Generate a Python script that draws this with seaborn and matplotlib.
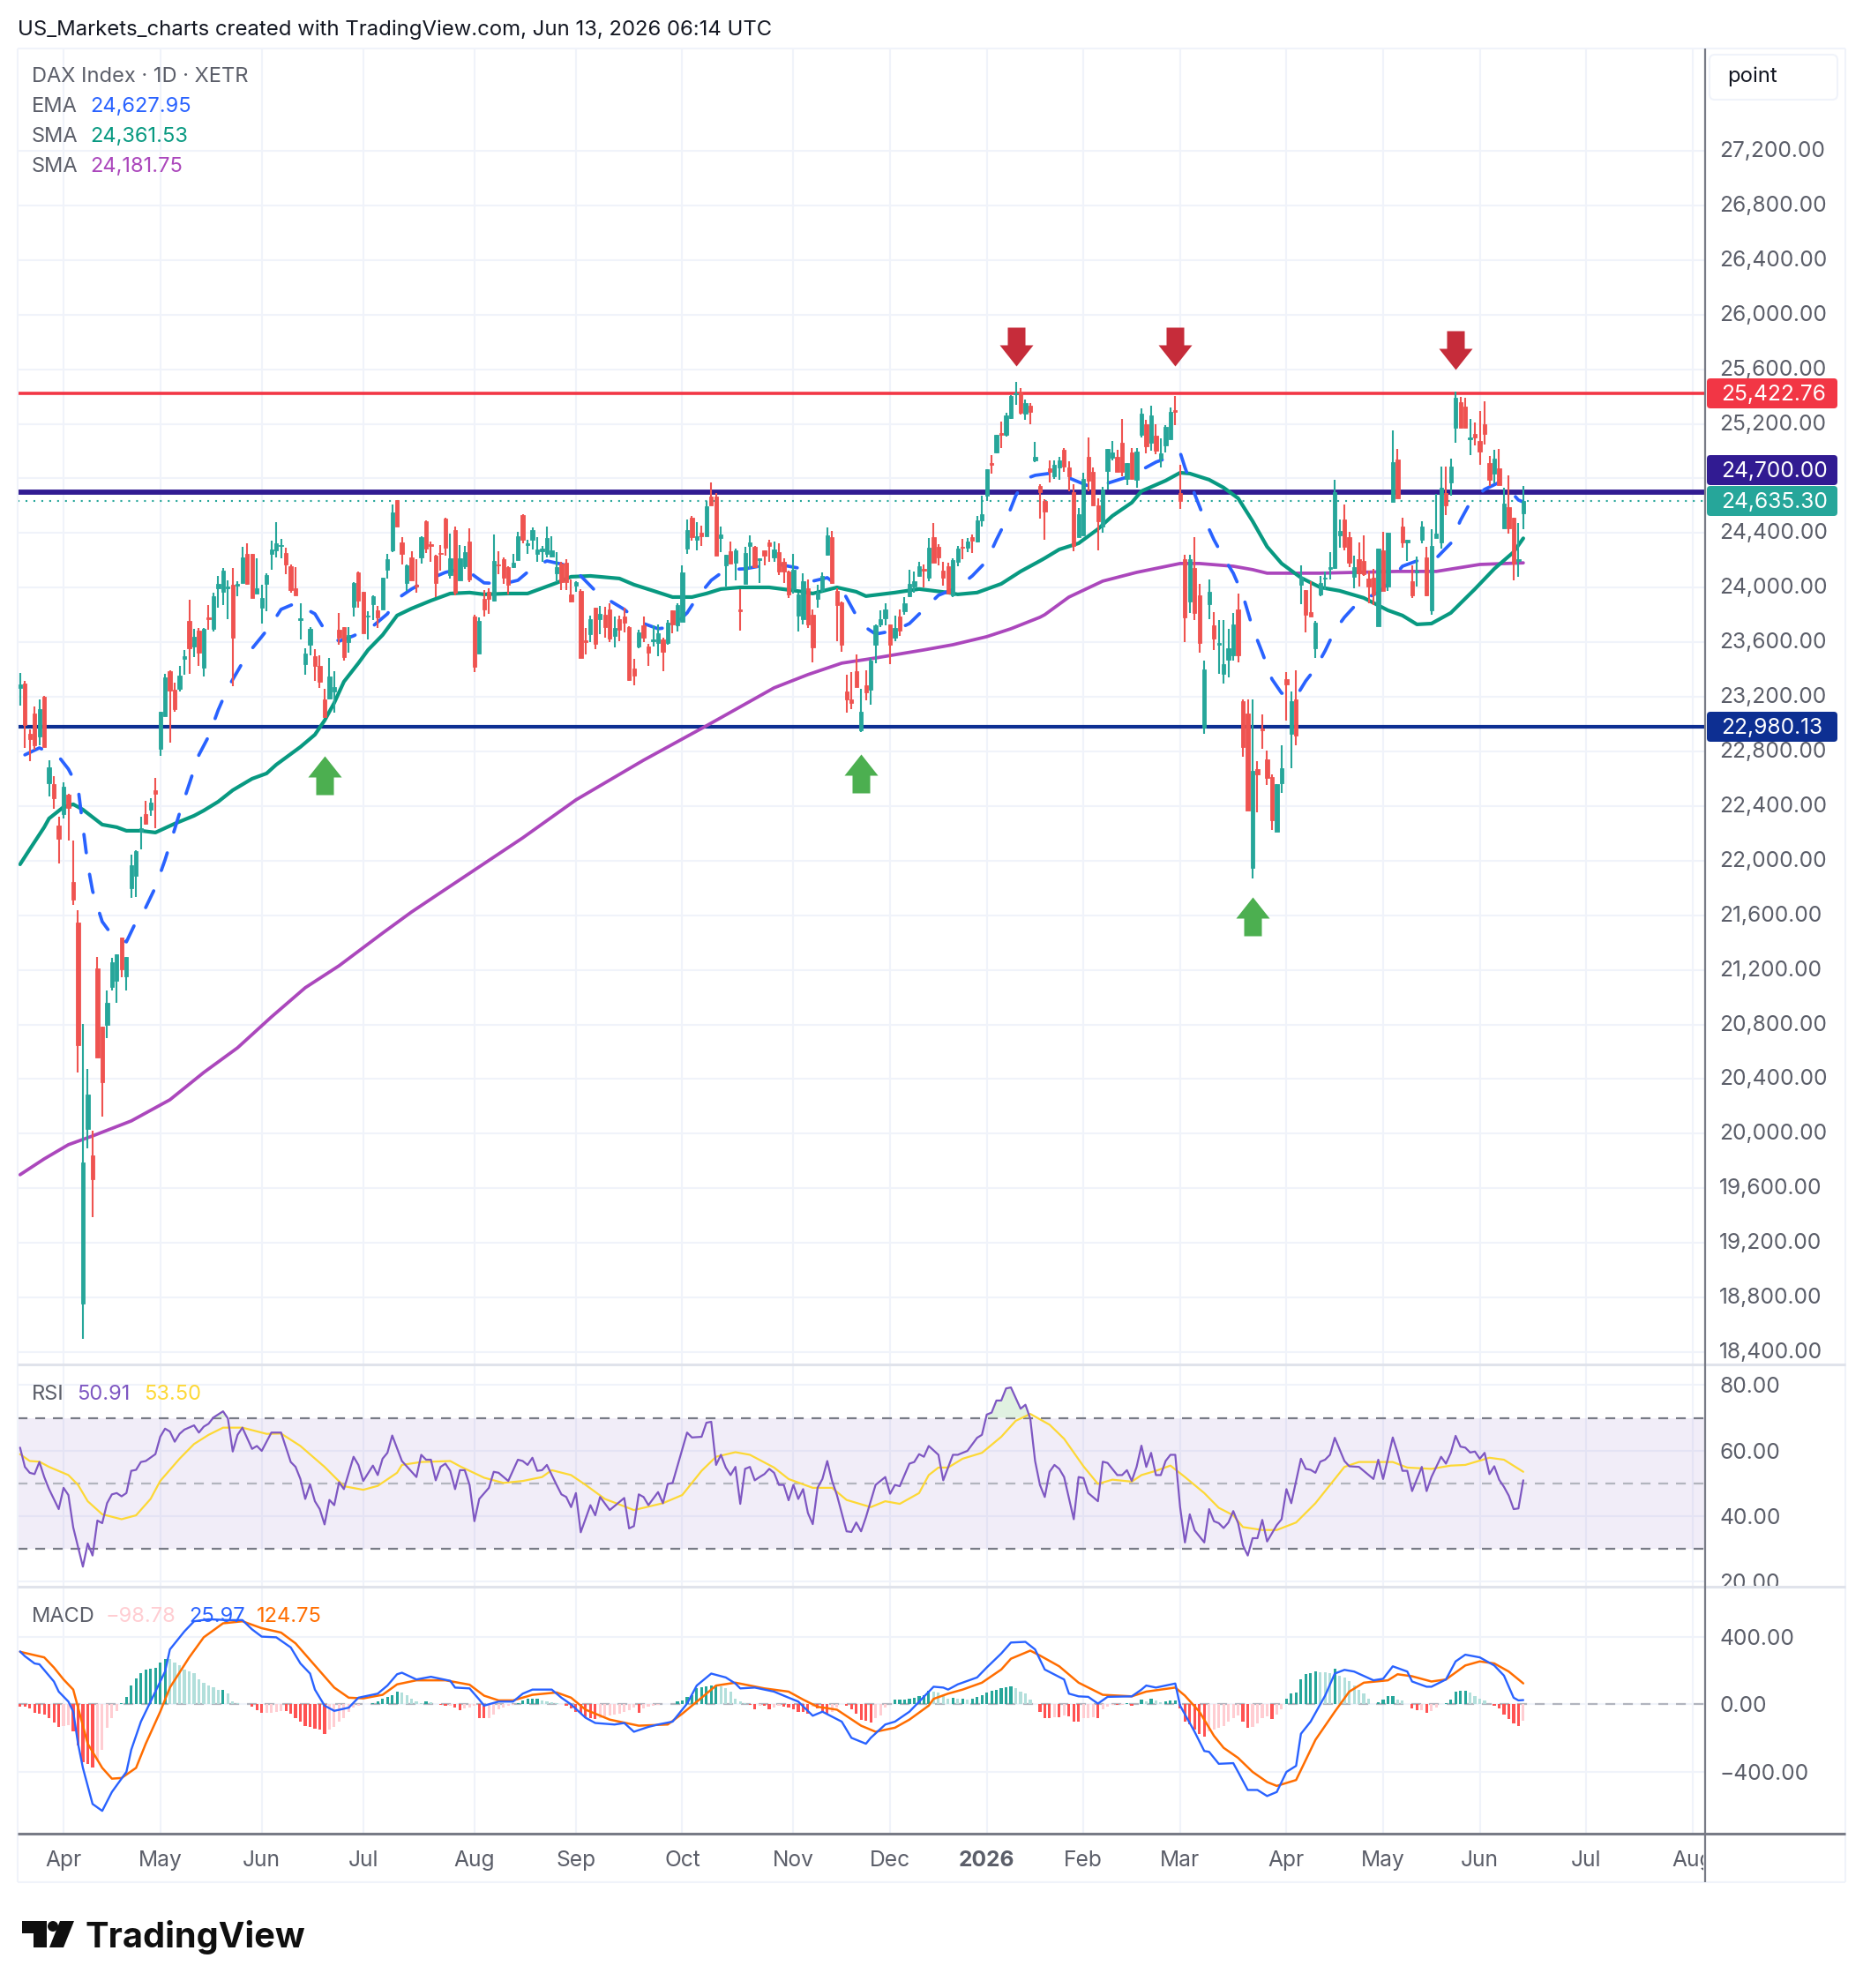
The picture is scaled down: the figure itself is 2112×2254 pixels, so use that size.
import numpy as np
import matplotlib
matplotlib.use("Agg")
import matplotlib.pyplot as plt
import seaborn as sns
from matplotlib.lines import Line2D
from matplotlib.patches import FancyBboxPatch, Polygon, Circle, Rectangle
from matplotlib.path import Path
from matplotlib.transforms import Affine2D, Bbox, IdentityTransform

# ---------------------------------------------------------------- daily bars
opens = [
    23266,23298,22930,23078,22910,23201,22568,22561,22258,22342,
    22484,21844,21547,18755,20035,19841,21211,20784,20797,21075,
    21120,21437,21153,21799,21889,22212,22342,22374,22516,22820,
    23059,23389,23253,23259,23479,23757,23569,23686,23414,23783,
    23699,23996,23970,23996,24022,24015,24035,24248,24248,23957,
    23854,24028,24248,24274,24306,24254,24157,23996,23763,23440,
    23582,23498,23427,23182,23188,23240,23692,23712,23602,23860,
    24112,23970,23789,23880,23834,23841,24132,24274,24642,24332,
    24035,24222,24022,24222,24487,24319,24235,24254,24506,24093,
    24422,24054,24157,24338,23789,23518,23918,23970,23905,24170,
    24209,24151,24151,24203,24532,24312,24351,24248,24267,24248,
    24229,24106,24177,24183,23951,24015,23977,23615,23660,23854,
    23770,23802,23841,23647,23770,23789,23712,23408,23569,23724,
    23569,23608,23595,23621,23595,23834,23724,23750,24287,24513,
    24351,24403,24377,24668,24668,24364,24164,24267,24183,23841,
    24028,24306,24300,24203,24274,24332,24222,24261,24190,24119,
    23990,23796,23770,23996,23802,23918,23983,24241,24371,23977,
    23893,23240,23182,23388,22955,23285,23253,23582,23731,23776,
    23731,23634,23789,23828,23938,24009,24086,24138,24073,24371,
    24300,24125,24157,23944,24190,24300,24293,24371,24338,24493,
    24674,24913,24991,25133,25120,25243,25418,25431,25275,25333,
    24933,24745,24635,24875,24816,24881,25010,24881,24700,24371,
    24384,24959,24849,24603,24448,24855,24952,24959,25062,24797,
    24991,24791,25120,25198,25062,25114,24946,25043,25088,25301,
    24694,24209,23899,24144,23944,22975,23880,23724,23582,23369,
    23472,23505,23841,23169,23078,21947,22671,22968,22742,22613,
    22212,22568,23330,22930,23182,24022,23983,23822,23556,23951,
    24067,24138,24144,24384,24500,24371,24080,24209,24196,24067,
    24073,23718,24274,24009,24629,24939,24448,24332,24048,24112,
    24351,24222,23835,24364,24332,24694,24771,25172,25359,25327,
    25088,25127,25075,25198,24913,24836,24875,24435,24590,24513,24196,24545,
]
closes = [
    23291,22994,22891,22846,23111,22833,22684,22458,22161,22542,
    22387,21715,20648,19789,20287,19666,20558,20377,20959,21256,
    21314,21204,21295,21967,22070,22238,22271,22426,22490,23091,
    23343,23246,23110,23356,23498,23556,23641,23524,23699,23770,
    23938,24028,24125,24009,23634,24028,24222,24028,23925,23996,
    23925,24093,24280,24325,24312,24170,23983,23944,23776,23518,
    23699,23427,23311,23052,23350,23272,23634,23492,23653,24035,
    23905,23666,23796,23938,23783,24073,24209,24552,24448,24248,
    24164,24054,24009,24371,24287,24306,24035,24248,24293,24216,
    23964,24216,24261,24060,23421,23757,23841,23918,24196,24164,
    24073,24022,24183,24377,24351,24325,24422,24280,24287,24364,
    24274,24151,24041,24041,23899,24041,23485,23602,23770,23589,
    23809,23712,23628,23705,23692,23744,23324,23356,23673,23634,
    23524,23621,23666,23531,23744,23731,23873,24112,24422,24371,
    24377,24377,24597,24603,24235,24390,24241,24177,24274,23828,
    24254,24332,24151,24216,24235,24306,24280,24119,24119,23951,
    24132,23951,24048,23731,23563,23964,24086,24384,24035,23873,
    23582,23182,23156,23272,23091,23233,23466,23724,23770,23841,
    23582,23705,23686,23886,24028,24048,24157,24125,24293,24183,
    24222,24073,23957,24203,24287,24293,24338,24345,24493,24539,
    24868,24900,25120,25120,25262,25405,25424,25282,25353,25288,
    24959,24700,24558,24849,24900,24933,24888,24817,24306,24539,
    24797,24784,24603,24487,24720,25017,24991,24849,24849,24913,
    24797,24997,25275,25036,25262,25004,24984,25178,25288,25288,
    24636,23783,24209,23815,23595,23401,23970,23628,23595,23440,
    23556,23731,23505,22833,22367,22658,22632,22955,22606,22296,
    22561,22678,23291,23169,22917,24080,23802,23789,23744,24035,
    24073,24151,24700,24416,24300,24183,24151,24106,24099,24009,
    23951,24287,23977,24403,24920,24655,24332,24351,23944,24125,
    24448,23944,24306,24397,24733,24603,24888,25392,25172,25172,
    25101,25101,24997,25127,24791,24946,24752,24616,24435,24177,24209,24635.30,
]
highs = [
    23376,23317,22962,23130,23182,23207,22736,22619,22322,22574,
    22490,22148,21637,20804,20474,20022,21295,20784,21049,21288,
    21314,21437,21295,22044,22077,22322,22439,22458,22606,23091,
    23369,23395,23304,23427,23544,23912,23699,23705,23705,23873,
    23964,24086,24144,24054,24144,24048,24300,24325,24248,24216,
    24022,24106,24345,24480,24358,24293,24170,24151,23886,23556,
    23712,23550,23505,23259,23485,23388,23815,23712,23712,24041,
    24119,23970,23828,23944,23867,24073,24248,24610,24642,24371,
    24170,24267,24209,24377,24493,24338,24241,24312,24513,24396,
    24448,24312,24306,24435,23802,23783,23983,23996,24390,24267,
    24222,24157,24248,24410,24539,24351,24442,24371,24306,24448,
    24377,24261,24190,24209,24060,24048,23989,23705,23796,23854,
    23867,23860,23886,23789,23796,23854,23718,23479,23692,23789,
    23589,23724,23731,23634,23763,23834,23886,24164,24500,24526,
    24480,24455,24635,24771,24694,24448,24241,24338,24287,23989,
    24300,24384,24306,24216,24274,24351,24338,24325,24216,24125,
    24248,23964,24106,24060,23841,24022,24112,24442,24416,23996,
    23899,23363,23382,23511,23259,23395,23485,23731,23834,23886,
    23731,23796,23841,23931,24132,24119,24190,24170,24364,24474,
    24319,24190,24183,24216,24306,24358,24364,24390,24526,24675,
    24868,24972,25120,25217,25282,25411,25508,25463,25379,25353,
    25069,24758,24648,24933,24933,24959,25023,24927,24758,24584,
    24842,25101,24881,24655,24739,25017,25075,25010,25237,24913,
    25023,25023,25314,25230,25333,25198,25094,25191,25321,25405,
    24900,24241,24241,24371,24028,23466,24060,23821,23763,23763,
    23699,23815,23957,23182,23182,23182,22729,23072,22807,22632,
    22561,22846,23382,23240,23395,24164,23983,24048,23757,24086,
    24119,24261,24791,24500,24610,24410,24235,24332,24384,24125,
    24138,24287,24410,24403,25153,25017,24513,24351,24164,24228,
    24487,24300,24429,24687,24888,24888,24946,25437,25398,25392,
    25237,25211,25295,25366,24965,25010,25017,24733,24823,24513,24474,24745,
]
lows = [
    23136,22826,22729,22813,22846,22833,22471,22380,21980,22309,
    22148,21676,20448,18497,19893,19388,20558,20125,20700,21049,
    20959,21146,21049,21728,21734,22083,22264,22329,22238,22768,
    23059,22865,23091,23240,23363,23369,23492,23427,23350,23692,
    23679,23854,23873,23770,23279,23938,24035,24022,23925,23957,
    23737,23828,24132,24222,24216,24099,23964,23944,23621,23363,
    23505,23317,23266,23052,23188,23085,23582,23466,23524,23789,
    23854,23666,23621,23763,23705,23841,24067,24261,24448,24170,
    23977,24054,23964,24177,24254,24190,23931,24125,24235,24067,
    23944,24054,24138,24041,23382,23518,23789,23809,23899,24099,
    24028,23951,24144,24203,24325,24248,24280,24190,24190,24222,
    24222,24041,23983,23983,23893,23970,23485,23511,23602,23550,
    23660,23634,23602,23563,23608,23673,23317,23285,23556,23602,
    23427,23569,23498,23388,23582,23666,23679,23750,24248,24345,
    24274,24306,24377,24603,24235,24261,24009,24177,24054,23686,
    24028,24138,24144,24035,24164,24190,24190,24093,24035,23925,
    23957,23679,23731,23705,23453,23854,23970,24235,24028,23608,
    23530,23085,23110,23272,22943,23175,23143,23447,23712,23724,
    23440,23608,23647,23802,23931,23964,24080,24002,24048,24183,
    24164,24015,23957,23931,24157,24209,24261,24254,24332,24448,
    24635,24836,24984,25023,25107,25237,25340,25269,25230,25198,
    24920,24506,24351,24771,24797,24791,24849,24707,24267,24371,
    24384,24707,24603,24274,24403,24720,24933,24849,24817,24752,
    24797,24733,25101,24984,25004,24978,24881,24991,25088,25191,
    24577,23602,23815,23763,23524,22930,23770,23544,23369,23298,
    23343,23466,23453,22762,22367,21870,22354,22820,22555,22225,
    22212,22497,23027,22678,22846,23880,23673,23789,23485,23938,
    23983,24060,24138,24293,24274,24151,23996,24009,24086,23886,
    23873,23718,23977,23977,24629,24655,24293,24196,23925,24009,
    24325,23938,23802,24364,24287,24532,24674,25062,25172,25172,
    24972,25043,24900,25049,24745,24765,24752,24435,24397,24054,24080,24429,
]

# ---------------------------------------------------------------- moving averages
ema_idx = [1,4,8,10,12,13,14,15,16,17,19,22,24,26,28,30,32,33,35,37,39,41,43,45,47,50,52,54,57,61,63,66,69,73,76,78,81,85,88,92,94,96,100,103,106,109,114,116,119,122,125,128,132,135,138,140,143,146,150,154,157,161,164,167,170,172,174,177,181,184,187,190,194,197,200,202,204,206,208,210,214,217,221,225,229,232,235,238,239,240,241,242,243,245,247,249,251,253,255,257,259,261,264,266,268,270,272,274,277,281,283,286,289,293,296,298,300,303,306,308,310,311]
ema_vals = [22775,22826,22762,22671,22535,22251,21973,21779,21663,21553,21456,21405,21553,21657,21805,22006,22232,22348,22561,22775,22910,23104,23266,23388,23511,23641,23731,23841,23886,23808,23692,23608,23647,23718,23808,23918,23990,24067,24112,24144,24086,24035,24028,24054,24144,24196,24157,24086,23977,23905,23841,23750,23699,23712,23815,23925,24054,24132,24138,24164,24170,24144,24048,24073,23990,23860,23731,23660,23686,23737,23841,23944,24002,24086,24196,24351,24493,24674,24797,24823,24842,24804,24745,24765,24810,24862,24920,24959,24985,24991,24881,24784,24687,24506,24351,24222,24106,23944,23705,23524,23330,23227,23201,23317,23408,23537,23686,23783,23899,23964,24028,24157,24196,24216,24325,24493,24623,24720,24771,24720,24642,24627.95]

sma50_idx = [0,2,5,6,9,11,13,17,20,22,25,28,32,36,38,41,44,48,51,53,55,58,61,63,65,67,70,72,75,78,81,85,89,93,96,101,105,108,111,114,118,124,127,131,135,139,142,145,149,155,162,164,169,173,175,181,186,192,194,198,203,207,211,212,215,219,223,226,230,232,237,240,242,246,249,252,255,258,261,265,269,273,278,283,286,289,292,296,301,305,309,311]
sma50_vals = [21973,22083,22245,22309,22393,22413,22374,22264,22245,22219,22219,22206,22271,22329,22367,22432,22516,22600,22639,22703,22755,22833,22923,23027,23156,23311,23447,23544,23653,23796,23847,23905,23957,23964,23951,23957,23957,23996,24035,24080,24086,24067,24022,23977,23931,23931,23957,23990,24002,24002,23970,23957,24002,23970,23938,23964,23990,23964,23951,23964,24028,24119,24196,24216,24280,24325,24429,24526,24623,24707,24784,24842,24836,24791,24733,24655,24487,24300,24177,24073,24002,23977,23925,23834,23796,23731,23737,23815,23990,24138,24261,24361.53]

sma200_idx = [0,5,10,15,23,31,38,45,52,59,66,75,81,87,104,115,129,142,156,163,170,177,187,193,200,205,211,212,217,224,231,240,244,251,255,258,269,285,293,302,311]
sma200_vals = [19699,19815,19919,19983,20093,20248,20448,20629,20855,21069,21230,21469,21624,21766,22167,22445,22736,22988,23266,23363,23447,23485,23544,23582,23641,23699,23783,23802,23931,24048,24112,24177,24177,24157,24132,24106,24106,24119,24119,24170,24181.75]

# ---------------------------------------------------------------- RSI
rsi_idx = [0,1,2,3,4,5,6,8,9,10,11,13,14,15,16,17,18,19,20,21,22,23,24,25,26,28,29,30,31,32,33,34,36,37,38,39,40,42,43,44,45,46,48,49,50,52,54,56,57,58,59,60,61,62,63,64,65,66,67,69,70,71,73,74,75,76,77,79,82,83,84,85,86,87,88,89,90,91,92,93,94,95,97,98,99,101,103,104,105,106,107,108,109,111,112,113,114,115,116,118,119,120,122,125,126,127,128,129,130,132,133,134,135,138,139,141,142,143,144,145,146,147,148,149,150,151,152,153,154,155,156,157,158,159,160,161,162,163,164,165,166,167,168,169,171,172,173,174,175,177,179,180,181,182,184,185,186,187,188,
           190,191,193,194,196,198,199,200,201,202,203,204,205,207,208,209,210,211,212,213,214,215,216,218,219,220,221,223,224,225,227,228,229,230,231,232,233,234,235,236,237,238,239,240,241,242,243,245,246,247,248,249,250,251,252,253,254,255,256,257,258,260,261,262,263,265,266,267,268,269,270,271,272,274,275,277,280,281,282,284,285,286,287,288,290,291,292,294,295,296,297,298,299,300,301,302,303,304,305,306,307,308,309,310,311]
rsi_vals = [60.9,55.0,53.2,52.8,56.5,51.9,48.2,42.1,48.6,46.4,36.5,24.5,31.6,27.9,38.6,37.8,43.9,46.6,47.0,46.0,47.0,53.8,54.1,56.5,56.8,58.9,64.2,66.7,65.8,62.7,65.1,66.4,67.7,65.5,67.3,68.2,70.1,72.0,69.8,59.7,64.8,67.0,60.5,61.4,59.9,65.5,65.5,56.5,55.0,51.3,45.2,49.7,44.5,42.1,37.4,44.9,43.3,50.3,48.2,58.1,55.6,50.7,55.4,52.5,57.5,59.3,64.6,56.8,51.9,58.7,57.2,57.2,50.9,55.0,56.0,53.8,48.2,54.0,54.0,49.5,38.4,45.2,48.6,53.5,53.2,50.7,57.2,56.8,55.6,57.8,53.8,54.0,55.6,49.5,46.6,45.8,42.7,47.0,35.0,43.3,40.2,45.8,41.8,45.5,36.2,36.9,46.6,45.8,43.3,47.3,43.9,49.8,50.1,65.5,64.0,64.2,68.5,68.8,55.6,58.7,54.8,52.5,55.0,43.7,54.4,55.0,50.9,51.9,52.8,54.4,53.2,49.5,49.5,44.8,49.5,45.2,48.2,40.9,37.5,48.6,51.3,56.8,50.7,46.4,35.3,35.1,38.0,35.3,39.6,49.5,51.9,46.8,49.5,49.1,56.0,56.5,58.9,58.1,61.4,
            58.7,50.9,58.7,58.7,59.9,63.9,64.8,71.0,71.6,75.3,75.3,79.0,79.3,72.8,74.0,69.8,56.8,49.5,45.8,53.5,55.6,54.4,51.9,39.0,51.9,51.6,47.0,44.5,56.6,56.2,52.5,52.5,54.0,50.7,55.0,61.5,55.0,59.3,52.5,52.5,56.8,58.7,58.7,42.7,31.9,40.5,35.6,31.9,42.1,38.4,37.8,36.3,38.0,41.5,37.8,31.0,27.9,33.2,33.2,38.8,32.2,37.2,39.0,48.2,43.9,57.5,54.4,54.1,53.2,56.6,57.2,58.7,63.9,56.8,55.2,55.0,51.3,57.2,51.3,64.0,59.3,53.8,53.8,47.6,55.0,47.6,51.9,58.1,56.0,59.3,64.5,61.2,60.9,59.4,59.7,57.5,59.3,52.8,55.2,51.1,48.9,46.2,42.1,42.3,50.91]

rsi_ma_idx = [0,2,4,6,10,12,14,17,21,24,27,29,33,36,39,42,46,51,54,58,63,67,71,74,78,79,83,89,91,96,100,104,108,110,114,117,121,127,133,137,141,144,148,151,156,159,164,168,171,176,179,182,186,188,190,192,195,199,203,206,209,213,216,220,223,226,230,232,235,238,241,245,248,251,253,257,260,264,268,272,274,277,284,287,292,296,299,304,307,311]
rsi_ma_vals = [58.9,56.8,56.6,55.0,52.5,49.5,44.5,40.5,39.0,40.2,45.2,50.7,57.5,62.0,64.8,67.0,67.0,65.1,65.2,61.4,55.0,49.1,48.0,49.2,53.2,55.6,56.5,56.8,55.2,51.7,50.1,50.7,51.9,54.0,52.5,49.5,45.2,41.8,43.9,46.4,53.8,58.1,59.5,58.7,54.8,51.3,48.6,48.6,44.9,42.7,44.5,43.7,47.0,52.5,54.8,54.8,57.5,59.3,64.2,69.1,71.2,67.9,63.6,55.2,49.8,51.1,50.5,52.5,53.8,55.4,51.9,47.0,42.5,40.2,36.6,35.7,35.7,38.0,43.9,51.3,55.0,56.5,56.5,54.8,54.4,55.4,55.6,57.8,57.2,53.50]

# ---------------------------------------------------------------- MACD
macd_idx = [0,1,3,4,7,8,10,11,12,13,15,17,19,22,23,25,27,30,31,34,36,39,43,46,48,50,53,56,58,60,61,63,65,68,70,72,74,76,78,79,82,85,89,90,93,95,96,99,102,104,106,110,112,114,117,119,123,125,127,130,132,135,138,140,143,146,148,149,152,156,158,161,164,166,170,172,175,176,179,181,184,188,189,191,192,194,198,200,203,205,208,210,212,216,217,219,221,223,225,230,232,233,235,239,240,243,245,246,248,251,252,254,256,258,260,262,264,265,267,270,272,274,276,280,282,284,287,288,291,292,295,297,299,302,305,307,309,310,311]
macd_vals = [314,286,243,238,136,76,17,-43,-233,-376,-590,-631,-519,-400,-269,-102,17,195,326,433,493,505,500,500,445,402,398,338,243,183,88,-7,-38,-19,40,52,64,112,179,188,148,164,140,100,95,29,-7,17,17,64,88,88,40,0,-79,-110,-119,-110,-162,-133,-119,-102,5,112,183,160,124,95,100,76,52,17,-67,-43,-102,-198,-233,-198,-119,-102,-43,76,105,100,88,119,160,219,302,367,371,326,207,148,64,48,45,5,45,48,88,112,100,124,-7,-162,-276,-281,-352,-348,-400,-507,-507,-543,-519,-400,-364,-174,-102,52,183,205,195,143,152,226,195,136,105,105,148,255,295,279,231,171,40,24,25.97]

signal_idx = [0,5,7,9,11,12,14,17,19,21,24,26,29,31,35,38,42,46,50,54,57,61,65,68,71,75,78,82,88,93,96,99,102,106,111,114,117,122,128,134,137,141,144,148,154,159,162,165,169,174,177,181,184,188,189,192,195,199,203,205,209,211,215,219,224,230,233,239,241,244,247,249,252,255,258,260,264,266,268,272,275,278,283,285,288,292,295,299,302,305,308,311]
signal_vals = [312,279,219,148,88,-19,-233,-376,-440,-436,-376,-233,-43,100,279,398,481,493,452,426,362,231,100,40,36,57,119,143,143,117,52,24,24,57,71,40,-31,-90,-126,-119,-55,40,112,129,95,76,29,-14,-31,-126,-162,-138,-90,-7,33,64,88,129,207,271,319,290,226,129,57,48,76,100,52,-43,-186,-257,-317,-400,-460,-483,-448,-329,-210,-43,76,129,143,179,167,136,148,231,255,243,195,124.75]

macd_hist = [
    -12,-14,-24,-52,-57,-62,-79,-105,-131,-126,
    -121,-162,-245,-340,-352,-376,-329,-269,-138,-79,
    -38,10,45,110,152,188,207,214,219,248,
    271,267,248,231,207,195,183,148,129,112,
    100,88,88,64,17,10,5,2,-14,-33,
    -52,-50,-48,-45,-40,-40,-55,-79,-102,-126,
    -133,-143,-150,-174,-150,-133,-102,-79,-43,-19,
    -7,2,5,10,17,33,45,57,76,69,
    57,33,17,10,17,12,5,-5,-10,-8,
    -19,-36,-24,-19,-10,-83,-83,-79,-62,-31,
    -19,-10,-5,10,24,33,33,33,24,17,
    14,10,0,-10,-24,-43,-55,-79,-83,-86,
    -81,-71,-67,-60,-55,-43,-33,-19,-48,-24,
    -14,-7,-2,2,5,5,17,26,43,57,
    98,100,105,112,112,105,95,76,33,17,
    10,-1,-31,-10,-10,-31,-19,-10,-14,-19,
    -31,-43,-43,-55,-12,-24,-48,-62,-43,-19,
    0,-10,-31,-55,-90,-98,-105,-79,-67,-19,
    5,29,29,29,33,40,48,57,81,76,
    71,48,33,40,33,33,29,33,45,57,
    69,81,88,95,100,105,95,76,64,29,
    5,-43,-79,-79,-74,-74,-67,-71,-102,-102,
    -83,-79,-74,-79,-31,-14,-2,-5,-2,10,
    -10,5,29,17,33,24,12,17,24,24,
    -24,-102,-119,-150,-174,-193,-162,-150,-138,-126,
    -102,-83,-67,-102,-138,-133,-114,-79,-71,-86,
    -62,-31,33,64,71,148,179,188,195,193,
    190,188,214,171,160,140,112,88,64,33,
    5,14,29,52,52,29,24,5,-24,-36,
    -33,-48,-38,-19,0,10,29,76,79,81,
    71,52,33,24,0,-10,-24,-60,-86,-110,
    -126,-98.78,
]

# ---------------------------------------------------------------- levels and labels
resistance = 25422.76
pivot = 24700.00
support = 22980.13
sell_marks = [206, 239, 297]
sell_prices = [25766, 25766, 25741]
buy_marks = [63, 174, 255]
buy_prices = [22626, 22639, 21592]
price_ticks = list(range(18400, 27201, 400))
rsi_ticks = [20, 40, 60, 80]
macd_ticks = [-400, 0, 400]
month_idx = [9, 29, 50, 71, 94, 115, 137, 160, 180, 200, 220, 240, 262, 282, 302, 324, 346]
month_names = ["Apr", "May", "Jun", "Jul", "Aug", "Sep", "Oct", "Nov", "Dec", "2026",
               "Feb", "Mar", "Apr", "May", "Jun", "Jul", "Aug"]

# ---------------------------------------------------------------- palette
UP, DOWN = "#26A69A", "#EF5350"
GRID, FRAME, AXIS = "#F0F3FA", "#E0E3EB", "#787B86"
TEXT, LABEL = "#5B5E69", "#131722"
EMA_C, SMA50_C, SMA200_C = "#2962FF", "#089981", "#AB47BC"
RED_C, INDIGO_C, BLUE_C = "#F23645", "#311B92", "#0D2F92"
RSI_C, RSI_MA_C = "#7E57C2", "#FDD835"
SIGNAL_C = "#FF6D00"
FS = 17.7
LEGEND_FS = 17.0

W, H = 2112, 2254
sns.set_theme(style="white", rc={"axes.spines.top": False, "axes.spines.right": False,
                                 "axes.spines.left": False, "axes.spines.bottom": False})
plt.rcParams["font.family"] = ["Inter", "DejaVu Sans"]
fig = plt.figure(figsize=(W / 100, H / 100), dpi=100, facecolor="white")


def pane(y0, y1, x0=20, x1=1934):
    ax = fig.add_axes([x0 / W, 1 - y1 / H, (x1 - x0) / W, (y1 - y0) / H], facecolor="white")
    ax.set_xlim(-0.5, 348.8)
    ax.set_xticks(month_idx)
    ax.yaxis.tick_right()
    ax.set_axisbelow(True)
    ax.grid(True, color=GRID, lw=1.5)
    ax.tick_params(length=0, labelsize=FS, labelcolor=TEXT, pad=11)
    ax.tick_params(axis="x", labelbottom=False, pad=14)
    return ax


def curve(ax, xs, ys, color, lw, z=3, **kw):
    sns.lineplot(x=np.asarray(xs), y=np.asarray(ys), ax=ax, color=color, lw=lw,
                 estimator=None, sort=False, legend=False, zorder=z, **kw)


def rule(xs, ys, color, lw):
    fig.add_artist(Line2D([x / W for x in xs], [1 - y / H for y in ys], color=color, lw=lw,
                          solid_capstyle="butt", zorder=4))


def caption(x, y, s, color, size=FS, **kw):
    fig.text(x / W, 1 - y / H, s, color=color, fontsize=size, va="center", ha="left", zorder=7, **kw)


def price_tag(y, s, color):
    fig.add_artist(FancyBboxPatch((1935, H - y - 17), 148, 34, boxstyle="round,pad=0,rounding_size=4",
                                  transform=IdentityTransform(), facecolor=color, edgecolor="none", zorder=6))
    caption(1951, y + 1, s, "white")


# ---------------------------------------------------------------- price pane
ax = pane(55, 1547)
idx = np.arange(len(closes))
o, c, hi, lo = map(np.asarray, (opens, closes, highs, lows))
colors = np.where(c >= o, UP, DOWN)

ax.axhline(resistance, color=RED_C, lw=2.6, zorder=2)
ax.axhline(pivot, color=INDIGO_C, lw=4.2, zorder=2)
ax.axhline(support, color=BLUE_C, lw=3.0, zorder=2)
ax.axhline(closes[-1], color=UP, lw=1.5, ls=(0, (1, 3.3)), zorder=2)

curve(ax, sma200_idx, sma200_vals, SMA200_C, 2.7)
curve(ax, sma50_idx, sma50_vals, SMA50_C, 3.0)
curve(ax, ema_idx, ema_vals, EMA_C, 2.7, linestyle=(0, (5.6, 6.6)), dash_capstyle="round")

ax.vlines(idx, lo, hi, colors=colors, lw=1.5, zorder=4)
ax.bar(idx, np.abs(c - o), bottom=np.minimum(o, c), width=0.78, color=colors,
       edgecolor=colors, lw=0.6, zorder=5)

up_arrow = Path([(0, 22), (19, -2), (10, -2), (10, -22), (-10, -22), (-10, -2), (-19, -2), (0, 22)], closed=True)
down_arrow = Path([(0, -22), (19, 2), (10, 2), (10, 22), (-10, 22), (-10, 2), (-19, 2), (0, -22)], closed=True)
ax.plot(buy_marks, buy_prices, ls="none", marker=up_arrow, ms=31.7, mfc="#4CAF50", mew=0, zorder=6)
ax.plot(sell_marks, sell_prices, ls="none", marker=down_arrow, ms=31.7, mfc="#C62C3A", mew=0, zorder=6)

ax.set_ylim(18309, 27950)
ax.set_yticks(price_ticks)
ax.set_yticklabels(["" if t == 24800 else f"{t:,.2f}" for t in price_ticks])
for tick in ax.yaxis.get_major_ticks():
    tick.label2.set_transform(tick.label2.get_transform() + Affine2D().translate(0, 2))

# ---------------------------------------------------------------- RSI pane
ax2 = pane(1547, 1799)
ax2.axhspan(30, 70, color=RSI_C, alpha=0.1, lw=0, zorder=1)
for level, col, dash in [(70, AXIS, (5, 4)), (30, AXIS, (5, 4)), (50, "#B2B5BE", (5, 4))]:
    ax2.axhline(level, color=col, lw=1.6, ls=(0, dash), zorder=2)
rsi_x, rsi_y = np.asarray(rsi_idx), np.asarray(rsi_vals)
ax2.fill_between(rsi_x, 70, rsi_y, where=rsi_y > 70.5, interpolate=True, color="#C8E6C9", alpha=0.55, lw=0, zorder=2)
curve(ax2, rsi_ma_idx, rsi_ma_vals, RSI_MA_C, 1.6)
curve(ax2, rsi_idx, rsi_vals, RSI_C, 1.6, z=4)
ax2.set_ylim(18.37, 86.33)
ax2.set_yticks(rsi_ticks)
ax2.set_yticklabels([f"{t:.2f}" for t in rsi_ticks])
for tick in ax2.yaxis.get_major_ticks():
    tick.label2.set_clip_box(Bbox([[1936, H - 1799], [2095, H - 1547]]))
    tick.label2.set_clip_on(True)

# ---------------------------------------------------------------- MACD pane
ax3 = pane(1799, 2079)
ax3.axhline(0, color="#B2B5BE", lw=1.6, ls=(0, (5, 4)), zorder=2)
hist = np.asarray(macd_hist)
prev = np.r_[hist[0], hist[:-1]]
hist_colors = np.where(hist >= 0,
                       np.where(hist >= prev, UP, "#B2DFDB"),
                       np.where(hist <= prev, "#FF5252", "#FFCDD2"))
ax3.bar(idx, hist, width=0.58, color=hist_colors, lw=0, zorder=3)
curve(ax3, signal_idx, signal_vals, SIGNAL_C, 1.8, z=4)
curve(ax3, macd_idx, macd_vals, EMA_C, 1.7, z=5)
ax3.set_ylim(-766, 698)
ax3.set_yticks(macd_ticks)
ax3.set_yticklabels([f"{t:.2f}".replace("-", "\u2212") for t in macd_ticks])
ax3.tick_params(axis="x", labelbottom=True, pad=14)
ax3.set_xticklabels(month_names)
for tick, name in zip(ax3.xaxis.get_major_ticks(), month_names):
    tick.label1.set_clip_box(Bbox([[20, H - 2134], [1931, H - 2079]]))
    tick.label1.set_clip_on(True)
    if name == "2026":
        tick.label1.set_fontweight("bold")

# ---------------------------------------------------------------- frame
rule([20, 20], [55, 2134], GRID, 1.5)
rule([20, 2092], [55, 55], GRID, 1.5)
rule([20, 2092], [2134, 2134], GRID, 1.5)
rule([2092, 2092], [55, 2134], GRID, 1.5)
rule([20, 2092], [1547, 1547], FRAME, 2.2)
rule([20, 2092], [1799, 1799], FRAME, 2.2)
rule([20, 2092], [2079, 2079], AXIS, 2.2)
rule([1933, 1933], [55, 2134], AXIS, 1.6)

# ---------------------------------------------------------------- titles and legends
caption(20, 34, "US_Markets_charts created with TradingView.com, Jun 13, 2026 06:14 UTC", LABEL, size=17.2)
caption(36, 87, "DAX Index \u00b7 1D \u00b7 XETR", TEXT, size=LEGEND_FS)
caption(36, 121, "EMA", TEXT, size=LEGEND_FS)
caption(36, 155, "SMA", TEXT, size=LEGEND_FS)
caption(36, 189, "SMA", TEXT, size=LEGEND_FS)
caption(102, 121, f"{ema_vals[-1]:,.2f}", EMA_C, size=LEGEND_FS)
caption(102, 155, f"{sma50_vals[-1]:,.2f}", SMA50_C, size=LEGEND_FS)
caption(102, 189, f"{sma200_vals[-1]:,.2f}", SMA200_C, size=LEGEND_FS)
caption(36, 1581, "RSI", TEXT, size=LEGEND_FS)
caption(87, 1581, f"{rsi_vals[-1]:.2f}", RSI_C, size=LEGEND_FS)
caption(163, 1581, f"{rsi_ma_vals[-1]:.2f}", RSI_MA_C, size=LEGEND_FS)
caption(36, 1833, "MACD", TEXT, size=LEGEND_FS)
caption(120, 1833, f"{macd_hist[-1]:.2f}".replace("-", "\u2212"), "#FFCDD2", size=LEGEND_FS)
caption(214, 1833, f"{macd_vals[-1]:.2f}", EMA_C, size=LEGEND_FS)
caption(291, 1833, f"{signal_vals[-1]:.2f}", SIGNAL_C, size=LEGEND_FS)

fig.add_artist(FancyBboxPatch((1938, H - 113), 145, 51, boxstyle="round,pad=0,rounding_size=6",
                              transform=IdentityTransform(), facecolor="white",
                              edgecolor=GRID, lw=1.5, zorder=5))
caption(1958, 87, "point", LABEL, size=17.2)

price_tag(446, f"{resistance:,.2f}", RED_C)
price_tag(533, f"{pivot:,.2f}", INDIGO_C)
price_tag(568, f"{closes[-1]:,.2f}", UP)
price_tag(824, f"{support:,.2f}", BLUE_C)

# ---------------------------------------------------------------- wordmark
INK = "#0F0F0F"
for pts in ([(25, 2178), (53, 2178), (53, 2208), (38, 2208), (38, 2192), (25, 2192)],
            [(68, 2178), (84, 2178), (72, 2208), (56, 2208)]):
    fig.add_artist(Polygon([(x, H - y) for x, y in pts], closed=True, transform=IdentityTransform(),
                           facecolor=INK, edgecolor="none", zorder=6))
fig.add_artist(Circle((60, H - 2184), 6, transform=IdentityTransform(), facecolor=INK, edgecolor="none", zorder=6))
caption(97, 2196, "TradingView", INK, size=28.6, fontweight="bold")

fig.savefig("out.png", dpi=100, facecolor="white")
